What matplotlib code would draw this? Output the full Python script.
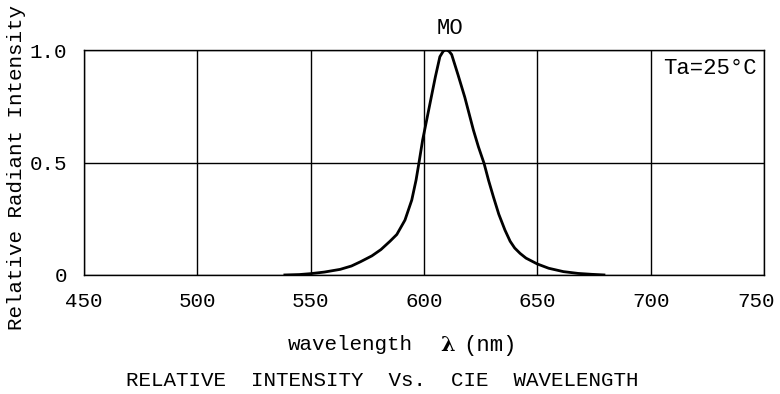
import matplotlib
matplotlib.use('Agg')
import matplotlib.pyplot as plt
import matplotlib.transforms as mtransforms

# Dane
wavelength = [538, 545, 550, 556, 563, 568, 572, 577, 581, 585, 588, 591.6, 594.6,
              596.5, 597.8, 599.4, 601, 603, 605, 607, 608.5, 609.7, 611, 612.2,
              615, 618, 621.8, 624, 626.5, 628.5, 630.6, 633, 635.7, 638, 640,
              642.4, 645, 650, 655, 661.5, 668, 674, 680]
intensity = [0.0, 0.002, 0.006, 0.013, 0.025, 0.04, 0.059, 0.085, 0.113, 0.15, 0.18,
             0.244, 0.333, 0.422, 0.5, 0.6, 0.68, 0.78, 0.88, 0.97, 0.995, 1.0,
             0.995, 0.98, 0.89, 0.79, 0.644, 0.57, 0.496, 0.42, 0.348, 0.27, 0.2,
             0.15, 0.12, 0.096, 0.075, 0.049, 0.03, 0.015, 0.007, 0.003, 0.0]
x_ticks = [450, 500, 550, 600, 650, 700, 750]
y_ticks = [0, 0.5, 1.0]
y_tick_labels = ['0', '0.5', '1.0']

plt.rcParams['font.family'] = ['Liberation Mono', 'DejaVu Sans']

fig = plt.figure(figsize=(7.8, 3.94), dpi=100)
ax = fig.add_axes([84 / 780, 1 - 275 / 394, 680 / 780, 225 / 394])

ax.plot(wavelength, intensity, color='black', linewidth=2, solid_capstyle='butt')
ax.set_xlim(450, 750)
ax.set_ylim(0, 1.0)
ax.set_xticks(x_ticks)
ax.set_yticks(y_ticks)
ax.set_yticklabels(y_tick_labels)
ax.tick_params(length=0, labelsize=15)
ax.tick_params(axis='x', pad=12)
ax.tick_params(axis='y', pad=12)
ax.grid(True, color='black', linewidth=1)
for s in ax.spines.values():
    s.set_linewidth(1)

# ostatnia etykieta troche w lewo, zeby sie zmiescila
fig.canvas.draw()
last = ax.get_xticklabels()[-1]
last.set_transform(last.get_transform() +
                   mtransforms.ScaledTranslation(-8 / 100, 0, fig.dpi_scale_trans))

# Opisy
ax.text(0.99, 0.92, 'Ta=25°C', transform=ax.transAxes, ha='right', va='center',
        fontsize=16)
fig.text(450 / 780, 1 - 28 / 394, 'MO', ha='center', va='center', fontsize=16)
fig.text(17 / 780, 1 - 168 / 394, 'Relative Radiant Intensity', rotation=90,
         ha='center', va='center', fontsize=15)
fig.text(350 / 780, 1 - 345 / 394, 'wavelength', ha='center', va='center', fontsize=15)
fig.text(448 / 780, 1 - 345 / 394, 'λ', ha='center', va='center', fontsize=15,
         fontweight='bold', family='DejaVu Serif')
fig.text(490 / 780, 1 - 345 / 394, '(nm)', ha='center', va='center', fontsize=16)
fig.text(382 / 780, 1 - 380 / 394, 'RELATIVE  INTENSITY  Vs.  CIE  WAVELENGTH',
         ha='center', va='center', fontsize=15)

fig.savefig('out.png', dpi=100)
